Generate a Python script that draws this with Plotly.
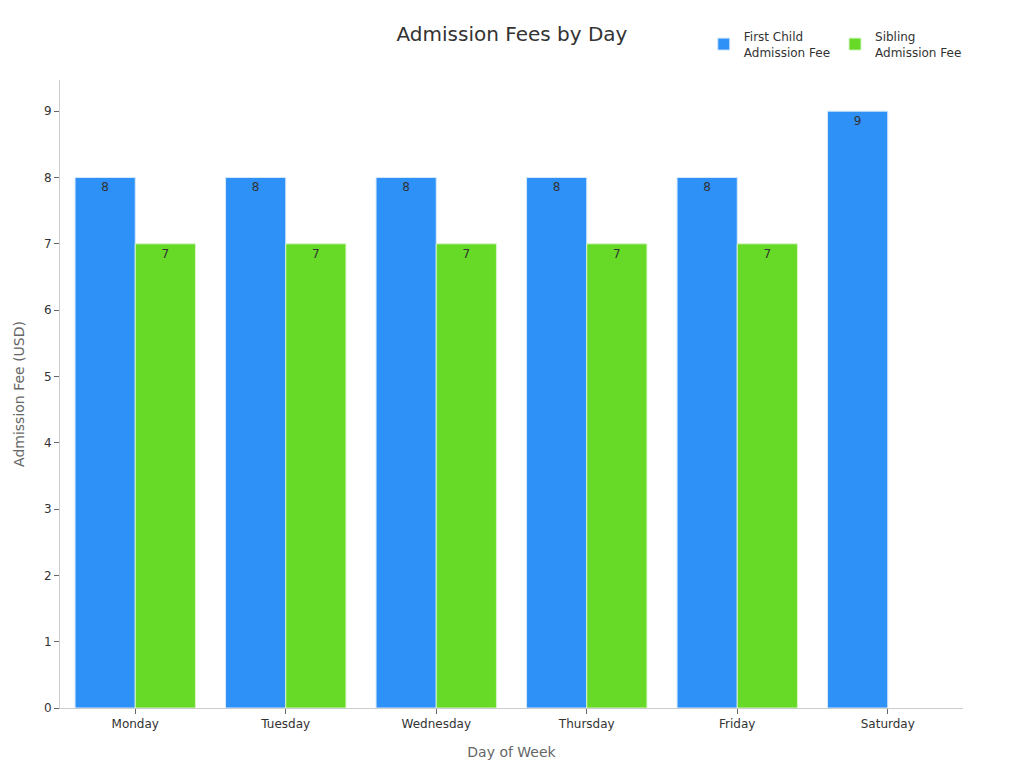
import plotly.graph_objects as go

days = ["Monday", "Tuesday", "Wednesday", "Thursday", "Friday", "Saturday"]
first_child = [8, 8, 8, 8, 8, 9]
sibling = [7, 7, 7, 7, 7, None]
y_ticks = [0, 1, 2, 3, 4, 5, 6, 7, 8, 9]

W, H = 1024, 768
OFF = 8  # page body offset

fig = go.Figure()
fig.add_trace(go.Bar(
    x=days, y=first_child, name="First Child<br>Admission Fee",
    marker=dict(color="#2E91F7", line=dict(color="#D6E9FB", width=1)),
    text=first_child, textposition="inside", insidetextanchor="end",
    textfont=dict(color="#333333", size=12),
))
fig.add_trace(go.Bar(
    x=days, y=sibling, name="Sibling<br>Admission Fee",
    marker=dict(color="#66DA26", line=dict(color="#D6F5C8", width=1)),
    text=[("" if v is None else v) for v in sibling], textposition="inside", insidetextanchor="end",
    textfont=dict(color="#333333", size=12),
))

fig.update_layout(
    width=W, height=H,
    font=dict(family="DejaVu Sans", color="#333333", size=12),
    title=dict(text="Admission Fees by Day", x=(512 - OFF) / W, xref="container", xanchor="center",
               y=1 - (34 - OFF) / H, yref="container", yanchor="middle",
               font=dict(size=20, color="#333333")),
    paper_bgcolor="white", plot_bgcolor="white",
    margin=dict(l=60 - OFF, r=W - (963 - OFF), t=80 - OFF, b=H - (708 - OFF), autoexpand=False),
    barmode="group", bargap=0.2, bargroupgap=0,
    legend=dict(orientation="h", x=0.9363, xref="container", xanchor="right",
                y=1 - (44.5 - OFF) / H, yref="container", yanchor="middle",
                font=dict(size=12, color="#333333"), itemwidth=30),
    xaxis=dict(title=dict(text="Day of Week", font=dict(size=14, color="#666666"), standoff=16),
               automargin=False,
               showline=True, linecolor="#CCCCCC", ticks="outside", tickcolor="#666666",
               ticklen=5, showgrid=False, tickfont=dict(size=12)),
    yaxis=dict(title=dict(text="Admission Fee (USD)", font=dict(size=14, color="#666666"), standoff=16),
               automargin=False,
               range=[0, 9.47], tickvals=y_ticks, showline=True, linecolor="#CCCCCC",
               ticks="outside", tickcolor="#666666", ticklen=5, showgrid=False, zeroline=False,
               tickfont=dict(size=12)),
    showlegend=True,
)

fig.write_html("out.html")
